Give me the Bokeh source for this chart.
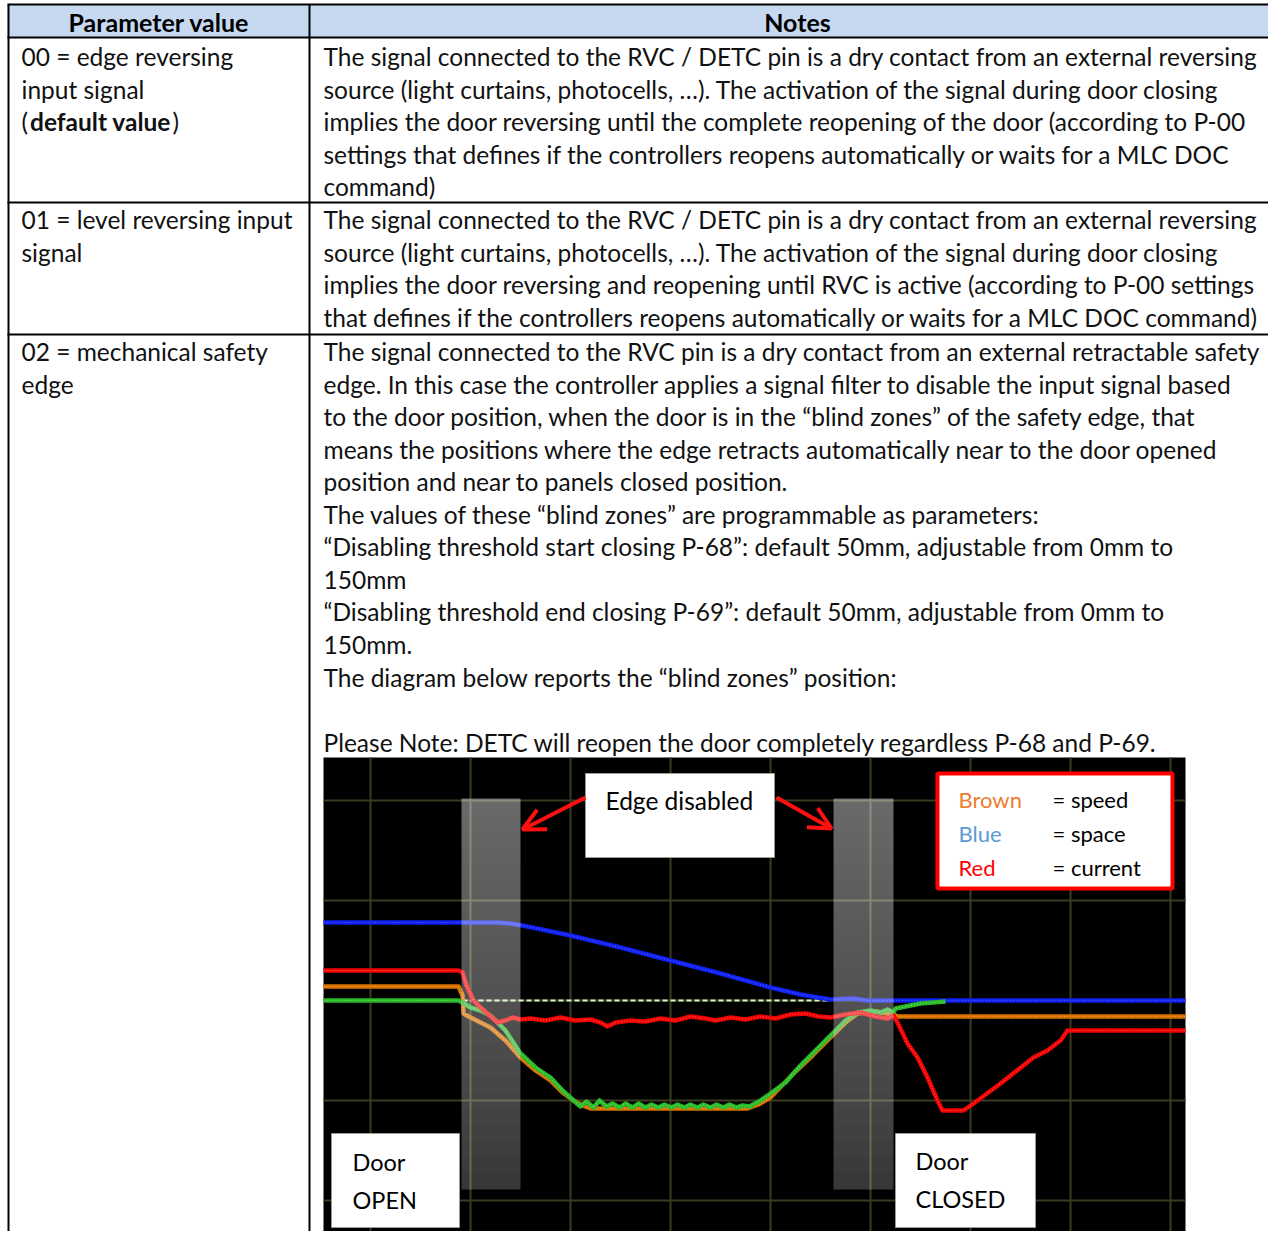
from bokeh.plotting import figure
from bokeh.models import Range1d, Arrow, OpenHead
from bokeh.core.properties import value
from bokeh.embed import file_html
from bokeh.resources import INLINE

# ------------------------------------------------------------------ data
header_labels = ["Parameter value", "Notes"]

param_row1 = ["00 = edge reversing", "input signal"]
param_row1_bold = "default value"
param_row2 = ["01 = level reversing input", "signal"]
param_row3 = ["02 = mechanical safety", "edge"]

notes_row1 = [
    "The signal connected to the RVC / DETC pin is a dry contact from an external reversing",
    "source (light curtains, photocells, \u2026). The activation of the signal during door closing",
    "implies the door reversing until the complete reopening of the door (according to P-00",
    "settings that defines if the controllers reopens automatically or waits for a MLC DOC",
    "command)",
]
notes_row2 = [
    "The signal connected to the RVC / DETC pin is a dry contact from an external reversing",
    "source (light curtains, photocells, \u2026). The activation of the signal during door closing",
    "implies the door reversing and reopening until RVC is active (according to P-00 settings",
    "that defines if the controllers reopens automatically or waits for a MLC DOC command)",
]
notes_row3 = [
    "The signal connected to the RVC pin is a dry contact from an external retractable safety",
    "edge. In this case the controller applies a signal filter to disable the input signal based",
    "to the door position, when the door is in the \u201cblind zones\u201d of the safety edge, that",
    "means the positions where the edge retracts automatically near to the door opened",
    "position and near to panels closed position.",
    "The values of these \u201cblind zones\u201d are programmable as parameters:",
    "\u201cDisabling threshold start closing P-68\u201d: default 50mm, adjustable from 0mm to",
    "150mm",
    "\u201cDisabling threshold end closing P-69\u201d: default 50mm, adjustable from 0mm to",
    "150mm.",
    "The diagram below reports the \u201cblind zones\u201d position:",
    "",
    "Please Note: DETC will reopen the door completely regardless P-68 and P-69.",
]

# scope trace data (time in grid divisions, value in grid divisions)
grid_t = [0, 1, 2, 3, 4, 5, 6, 7, 8]
grid_v = [-2, -1, 0, 1, 2]
scope_t_extent = [-0.47, 8.15]
scope_v_extent = [-2.47, 2.43]

space_t = [-0.47, 1.27, 1.40, 1.52, 2.00, 2.50, 3.00, 3.50, 4.00, 4.30, 4.60, 4.83, 4.97, 8.15]
space_v = [0.78, 0.78, 0.77, 0.75, 0.65, 0.53, 0.40, 0.27, 0.13, 0.06, 0.01, 0.02, 0.00, 0.00]

speed_t = [-0.47, 0.88, 0.92, 0.93, 1.00, 1.20, 1.35, 1.50, 1.65, 1.80, 1.92, 2.03, 2.12, 2.20,
           3.77, 3.88, 4.00, 4.23, 4.42, 4.60, 4.75, 4.87, 5.05, 5.23, 5.27, 8.15]
speed_v = [0.14, 0.14, 0.05, -0.13, -0.17, -0.27, -0.40, -0.57, -0.70, -0.80, -0.92, -1.00, -1.05, -1.08,
           -1.08, -1.04, -0.97, -0.73, -0.55, -0.37, -0.22, -0.13, -0.11, -0.14, -0.16, -0.16]

ref_t = [-0.47, 0.88, 0.92, 1.00, 1.10, 1.20, 1.35, 1.50, 1.65, 1.80, 1.92,
         2.03, 2.10, 2.16, 2.23, 2.29, 2.36, 2.42, 2.49, 2.55, 2.62, 2.68, 2.75, 2.81, 2.88,
         2.94, 3.01, 3.07, 3.14, 3.20, 3.27, 3.33, 3.40, 3.46, 3.53, 3.59, 3.66, 3.72, 3.79,
         3.90, 4.00, 4.15, 4.30, 4.45, 4.60, 4.75, 4.87, 5.00, 5.10, 5.17, 5.23, 5.25, 5.35, 5.50, 5.75]
ref_v = [0.00, 0.00, -0.02, -0.07, -0.10, -0.15, -0.30, -0.53, -0.67, -0.77, -0.90,
         -1.00, -1.06, -1.01, -1.07, -1.00, -1.06, -1.03, -1.07, -1.03, -1.07, -1.03, -1.07, -1.04, -1.07,
         -1.04, -1.07, -1.04, -1.07, -1.04, -1.07, -1.04, -1.07, -1.04, -1.07, -1.04, -1.07, -1.05, -1.06,
         -1.00, -0.93, -0.82, -0.65, -0.50, -0.35, -0.20, -0.12, -0.10, -0.12, -0.09, -0.12, -0.08, -0.06, -0.03, -0.01]

current_t = [-0.47, 0.88, 0.92, 0.96, 1.03, 1.10, 1.17, 1.27, 1.35, 1.42, 1.50, 1.60, 1.75, 1.90,
             2.05, 2.20, 2.30, 2.37, 2.45, 2.60, 2.75, 2.90, 3.05, 3.20, 3.35, 3.45, 3.60, 3.75,
             3.90, 4.05, 4.20, 4.35, 4.48, 4.60, 4.75, 4.90, 5.05, 5.17, 5.23, 5.27, 5.37, 5.47,
             5.57, 5.67, 5.72, 5.93, 6.03, 6.30, 6.63, 6.77, 6.90, 6.97, 8.15]
current_v = [0.30, 0.30, 0.28, 0.15, 0.00, -0.07, -0.13, -0.22, -0.20, -0.17, -0.19, -0.18, -0.20, -0.17,
             -0.20, -0.19, -0.22, -0.26, -0.22, -0.20, -0.21, -0.18, -0.20, -0.16, -0.18, -0.20, -0.17, -0.19,
             -0.16, -0.18, -0.14, -0.13, -0.16, -0.17, -0.14, -0.12, -0.16, -0.18, -0.15, -0.22, -0.43, -0.57,
             -0.77, -1.00, -1.10, -1.10, -1.03, -0.83, -0.57, -0.50, -0.40, -0.30, -0.30]

zero_ref_t = [0.92, 4.60]
zero_ref_v = [0.0, 0.0]

blind_zones = [(0.91, 1.50), (4.63, 5.23)]
blind_v = (-1.89, 2.02)

legend_names = ["Brown", "Blue", "Red"]
legend_meaning = ["= speed", "= space", "= current"]
legend_colors = ["#ED7D31", "#5B9BD5", "#FF0000"]

# ------------------------------------------------------------------ layout constants
W, H = 1268, 1231
FONT = value("Lato")
PX_T0, PY_V0, DIV = 370, 1000, 100  # scope pixel origin and pixels per division

p = figure(width=W, height=H, x_range=Range1d(0, W), y_range=Range1d(H, 0),
           output_backend="svg", toolbar_location=None, min_border=0,
           x_axis_location=None, y_axis_location=None)
p.grid.visible = False
p.outline_line_color = None
p.background_fill_color = "white"
p.border_fill_color = "white"

p.extra_x_ranges = {"sx": Range1d((0 - PX_T0) / DIV, (W - PX_T0) / DIV)}
p.extra_y_ranges = {"sy": Range1d((PY_V0 - H) / DIV, (PY_V0 - 0) / DIV)}
S = dict(x_range_name="sx", y_range_name="sy")

# ------------------------------------------------------------------ table
p.quad(left=7, right=W, top=4, bottom=37, fill_color="#C6D9F1", line_color=None)
hy = [4, 37, 202, 334]
p.segment(x0=[7] * len(hy), y0=hy, x1=[W] * len(hy), y1=hy, line_color="black", line_width=2)
p.segment(x0=[8, 309], y0=[4, 4], x1=[8, 309], y1=[H, H], line_color="black", line_width=2)

BODY = "24.5px"
tk = dict(text_font=FONT, text_font_size=BODY, text_baseline="middle", text_color="#111111")
p.text(x=[158.5, 797], y=[21, 21], text=header_labels, text_align="center", text_font_style="bold",
       text_font=FONT, text_font_size="25px", text_baseline="middle", text_color="black")

PITCH = 32.55
def lines(xs, y_first, texts, **kw):
    ys = [y_first + i * PITCH for i in range(len(texts))]
    p.text(x=[xs] * len(texts), y=ys, text=texts, text_align="left", **tk, **kw)

lines(21, 56, param_row1)
p.text(x=[21], y=[56 + 2 * PITCH], text=["("], text_align="left", **tk)
p.text(x=[29.5], y=[56 + 2 * PITCH], text=[param_row1_bold], text_align="left", text_font_style="bold", **tk)
p.text(x=[172], y=[56 + 2 * PITCH], text=[")"], text_align="left", **tk)
lines(21, 219, param_row2)
lines(21, 351, param_row3)

lines(323, 56, notes_row1)
lines(323, 219, notes_row2)
lines(323, 351, notes_row3)

# ------------------------------------------------------------------ scope
p.quad(left=[scope_t_extent[0]], right=[scope_t_extent[1]], bottom=[scope_v_extent[0]],
       top=[scope_v_extent[1]], fill_color="black", line_color=None, **S)
grid_col = "#3b3d20"
p.segment(x0=grid_t, y0=[scope_v_extent[0]] * len(grid_t), x1=grid_t, y1=[scope_v_extent[1]] * len(grid_t),
          line_color=grid_col, line_width=2, **S)
p.segment(x0=[scope_t_extent[0]] * len(grid_v), y0=grid_v, x1=[scope_t_extent[1]] * len(grid_v), y1=grid_v,
          line_color=grid_col, line_width=2, **S)

p.line(zero_ref_t, zero_ref_v, line_color="#d8f5c8", line_width=2, line_dash="5 3", **S)
traces = [
    (space_t, space_v, "#1020f0", "#5a70ff"),
    (speed_t, speed_v, "#d87000", "#ffb040"),
    (ref_t, ref_v, "#28b828", "#80f080"),
    (current_t, current_v, "#f00000", "#ff7070"),
]
for tx, vy, col, dot in traces:
    p.line(tx, vy, line_color=col, line_width=4.5, line_join="round", **S)
    p.line(tx, vy, line_color=dot, line_width=1.2, line_dash="1 2", line_alpha=0.8, **S)

# blind-zone translucent bars: base layer + nested layers for a smooth vertical gradient
n = 24
for (t0, t1) in blind_zones:
    vb, vt = blind_v
    p.quad(left=[t0], right=[t1], top=[vt], bottom=[vb], fill_color="white", fill_alpha=0.22,
           line_color=None, **S)
    step = (vt - vb) / n
    bots = [vb + (i + 1) * step for i in range(n - 1)]
    p.quad(left=[t0] * len(bots), right=[t1] * len(bots), top=[vt] * len(bots), bottom=bots,
           fill_color="white", fill_alpha=0.0145, line_color=None, **S)

# annotation boxes
p.quad(left=[585, 331, 895], right=[774, 459, 1035], top=[773, 1133, 1133], bottom=[857, 1227, 1227],
       fill_color="white", line_color="#9a9a9a", line_width=1)
p.text(x=[605], y=[800], text=["Edge disabled"], text_font=FONT, text_font_size="24.5px",
       text_baseline="middle", text_color="black")
p.text(x=[352, 352, 915, 915], y=[1161, 1199, 1160, 1198], text=["Door", "OPEN", "Door", "CLOSED"],
       text_font=FONT, text_font_size="23.5px", text_baseline="middle", text_color="black")

for xs, ys, xe, ye in [(585, 797, 522, 829), (776, 797, 831, 828)]:
    p.add_layout(Arrow(end=OpenHead(size=22, line_color="#ff1010", line_width=4),
                       x_start=xs, y_start=ys, x_end=xe, y_end=ye,
                       line_color="#ff1010", line_width=4))

# legend box
p.quad(left=[937], right=[1172], top=[773], bottom=[888], fill_color="white", line_color="#ff0000", line_width=4)
ly = [799, 833, 867]
p.text(x=[958] * 3, y=ly, text=legend_names, text_color=legend_colors, text_font=FONT,
       text_font_size="22px", text_baseline="middle")
p.text(x=[1052] * 3, y=ly, text=legend_meaning, text_color="black", text_font=FONT,
       text_font_size="22px", text_baseline="middle")

open("out.html", "w").write(file_html(p, INLINE))
